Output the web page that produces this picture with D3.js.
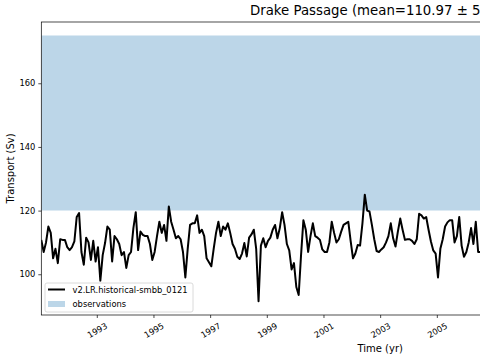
<!DOCTYPE html>
<html><head><meta charset="utf-8">
<script src="https://cdn.jsdelivr.net/npm/d3@7"></script>
<style>
html,body{margin:0;padding:0;background:#fff;overflow:hidden;}
text{font-family:"DejaVu Sans",sans-serif;}
</style></head>
<body><svg id="c" width="480" height="360"></svg>
<script>
// monthly transport values (Sv), starting Jan 1991
const startYear = 1991;
const transport = [
110.8,107,110,115,113,105,108,103.5,111,110.8,110.8,108.5,
107.6,108.5,110.3,118,119.2,107,103,111.5,110,104.5,110.5,104,
108.5,98,106,109.8,115,114,104,112,111,109.5,106,107,
102,106,107,114.5,119.5,107.6,113.4,112.4,112,112,109.5,104.5,
107,112,116.5,113,115.5,110.5,121.3,116.5,114,111.3,112,111,
107,99,108,115.5,116,116,118.5,113,114,112,105,103.8,
102.5,108,113,116.5,112,115,114,116,113,109.5,108,105.5,
104.8,106.5,109.8,105.6,111.5,112.5,114,108,91.5,109,111.3,108.5,
110.5,111.5,114,115.5,111.3,114.5,119.5,115.5,109.5,107.5,101.5,103.5,
96,93.5,106,117,114,107,112,116,112,111.5,110.8,107.8,
107,107,110,116.5,113,110,111,113.4,115.5,116,116.5,110.5,
105,106.5,109.2,109,116,125,120,119.7,115.5,111,107.3,107,
107.8,108.5,110,112,116,111.3,108.7,113.4,117.5,114,110.8,111,
111,110.5,109.5,111,119,118.5,117.5,118,114,110.3,107.5,106.5,
99,108,111,115,116.3,117,117,110,112,118,109,105.5,
107,110,114.5,109.5,116.5,107,107,108
];
const obsRange = [120, 175];
const xTicks = [1993,1995,1997,1999,2001,2003,2005];
const yTicks = [100,120,140,160];
const seriesName = "v2.LR.historical-smbb_0121";
const obsName = "observations";
const titleText = "Drake Passage (mean=110.97 \u00b1 5.47)";

const data = transport.map((v,i)=>({t: startYear + (i+0.5)/12, v}));

const L=41.3, R=719, T=22, B=315;
const x = d3.scaleLinear().domain([startYear+0.5/12, 2015-0.5/12]).range([L,R]);
const y = d3.scaleLinear().domain([87.2,179.25]).range([B,T]);

const svg = d3.select("#c");
const defs = svg.append("defs");
defs.append("clipPath").attr("id","clip").append("rect").attr("x",L).attr("y",T).attr("width",R-L).attr("height",B-T);

const g = svg.append("g").attr("clip-path","url(#clip)");
// observations band
g.append("path")
 .datum(data)
 .attr("fill","#bcd6e8")
 .attr("d", d3.area().x(d=>x(d.t)).y0(y(obsRange[0])).y1(y(obsRange[1])));
// series line
g.append("path")
 .datum(data)
 .attr("fill","none").attr("stroke","#000").attr("stroke-width",2)
 .attr("stroke-linejoin","round")
 .attr("d", d3.line().x(d=>x(d.t)).y(d=>y(d.v)));

// axes
const xAxis = svg.append("g").attr("transform",`translate(0,${B})`)
 .call(d3.axisBottom(x).tickValues(xTicks).tickFormat(d3.format("d")).tickSize(3).tickPadding(3));
xAxis.select(".domain").remove();
xAxis.selectAll("line").attr("stroke","#000").attr("stroke-width",0.7);
xAxis.selectAll("text").attr("font-size","8.33px").attr("fill","#000")
 .attr("text-anchor","middle").attr("dy",null).attr("y",null)
 .attr("dominant-baseline","central")
 .attr("transform","translate(0,15.3) rotate(-30)");

const yAxis = svg.append("g").attr("transform",`translate(${L},0)`)
 .call(d3.axisLeft(y).tickValues(yTicks).tickSize(3).tickPadding(3));
yAxis.select(".domain").remove();
yAxis.selectAll("line").attr("stroke","#000").attr("stroke-width",0.7);
yAxis.selectAll("text").attr("font-size","8.33px").attr("fill","#000");

// frame
svg.append("rect").attr("x",L).attr("y",T).attr("width",R-L).attr("height",B-T)
 .attr("fill","none").attr("stroke","#000").attr("stroke-width",0.7);

// labels
svg.append("text").attr("x",250).attr("y",15).attr("font-size","13.3px").attr("fill","#000").text(titleText);
svg.append("text").attr("x",(L+R)/2).attr("y",352).attr("text-anchor","middle").attr("font-size","10px").text("Time (yr)");
svg.append("text").attr("transform","translate(14,168.5) rotate(-90)").attr("text-anchor","middle").attr("font-size","10px").text("Transport (Sv)");

// legend
const lg = svg.append("g");
lg.append("rect").attr("x",45).attr("y",283).attr("width",148).attr("height",29).attr("rx",2)
 .attr("fill","#fff").attr("fill-opacity",0.8).attr("stroke","#d0d0d0").attr("stroke-width",0.8);
lg.append("line").attr("x1",48).attr("x2",65).attr("y1",289.5).attr("y2",289.5).attr("stroke","#000").attr("stroke-width",2);
lg.append("text").attr("x",72.5).attr("y",289.5).attr("dominant-baseline","central").attr("font-size","8.33px").text(seriesName);
lg.append("rect").attr("x",48).attr("y",301).attr("width",17).attr("height",6).attr("fill","#bcd6e8");
lg.append("text").attr("x",72.5).attr("y",304).attr("dominant-baseline","central").attr("font-size","8.33px").text(obsName);
</script></body></html>
